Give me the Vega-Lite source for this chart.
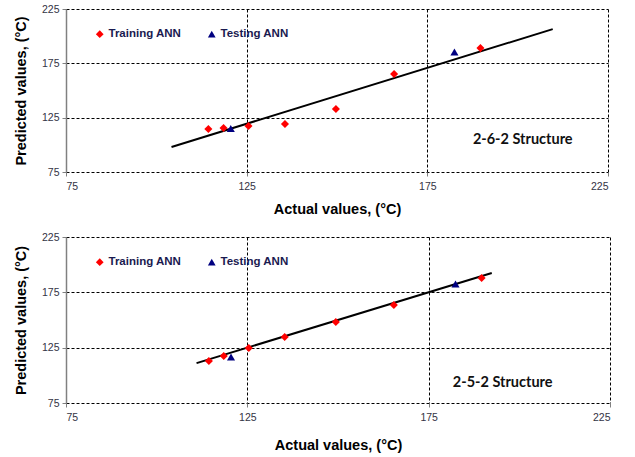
{
  "$schema": "https://vega.github.io/schema/vega-lite/v6.json",
  "padding": {"left": 13, "top": 4, "right": 5, "bottom": 5},
  "background": "white",
  "spacing": 16,
  "datasets": {
    "points": [
      {"panel": "A", "type": "Training ANN", "actual": 114.4, "predicted": 114.6},
      {"panel": "A", "type": "Training ANN", "actual": 118.6, "predicted": 115.5},
      {"panel": "A", "type": "Training ANN", "actual": 125.5, "predicted": 117.3},
      {"panel": "A", "type": "Training ANN", "actual": 135.6, "predicted": 119.2},
      {"panel": "A", "type": "Training ANN", "actual": 149.7, "predicted": 133.0},
      {"panel": "A", "type": "Training ANN", "actual": 165.8, "predicted": 165.2},
      {"panel": "A", "type": "Training ANN", "actual": 189.7, "predicted": 189.0},
      {"panel": "A", "type": "Testing ANN", "actual": 120.6, "predicted": 115.0},
      {"panel": "A", "type": "Testing ANN", "actual": 182.5, "predicted": 185.4},
      {"panel": "B", "type": "Training ANN", "actual": 114.4, "predicted": 112.9},
      {"panel": "B", "type": "Training ANN", "actual": 118.5, "predicted": 117.5},
      {"panel": "B", "type": "Training ANN", "actual": 125.4, "predicted": 124.7},
      {"panel": "B", "type": "Training ANN", "actual": 135.3, "predicted": 134.6},
      {"panel": "B", "type": "Training ANN", "actual": 149.4, "predicted": 148.2},
      {"panel": "B", "type": "Training ANN", "actual": 165.4, "predicted": 163.5},
      {"panel": "B", "type": "Training ANN", "actual": 189.6, "predicted": 187.9},
      {"panel": "B", "type": "Testing ANN", "actual": 120.5, "predicted": 116.5},
      {"panel": "B", "type": "Testing ANN", "actual": 182.4, "predicted": 182.5}
    ],
    "fits": [
      {"panel": "A", "actual": 104.2, "predicted": 98.0},
      {"panel": "A", "actual": 209.7, "predicted": 206.5},
      {"panel": "B", "actual": 111.0, "predicted": 111.0},
      {"panel": "B", "actual": 192.4, "predicted": 192.4}
    ],
    "notes": [
      {"panel": "A", "actual": 201.4, "predicted": 104.4, "label": "2-6-2 Structure"},
      {"panel": "B", "actual": 195.4, "predicted": 93.0, "label": "2-5-2 Structure"}
    ]
  },
  "config": {
    "view": {"stroke": null},
    "scale": {"zero": false},
    "axis": {
      "grid": true,
      "gridColor": "#000000",
      "gridDash": [3, 2],
      "gridWidth": 1,
      "labelFont": "Liberation Sans",
      "labelFontSize": 10.5,
      "labelColor": "#333344",
      "titleFont": "Liberation Sans",
      "titleFontSize": 14.5,
      "titleFontWeight": "bold",
      "titleColor": "#000000",
      "tickColor": "#808080",
      "tickSize": 4
    },
    "legend": {
      "orient": "none",
      "legendX": 28,
      "legendY": 19,
      "direction": "horizontal",
      "title": null,
      "labelFont": "Liberation Sans",
      "labelFontSize": 11.5,
      "labelFontWeight": "bold",
      "labelColor": "#1a1a50",
      "symbolSize": 60,
      "symbolStrokeWidth": 0,
      "columnPadding": 24,
      "labelOffset": 3
    }
  },
  "resolve": {
    "scale": {"color": "independent", "shape": "independent"},
    "legend": {"color": "independent", "shape": "independent"}
  },
  "vconcat": [
    {
      "width": 542,
      "height": 163,
      "encoding": {
        "x": {"field": "actual", "type": "quantitative",
          "scale": {"domain": [75, 225], "nice": false, "zero": false},
          "axis": {"values": [75, 125, 175, 225], "title": "Actual values, (°C)", "domain": false, "labelPadding": 5, "titlePadding": 11}},
        "y": {"field": "predicted", "type": "quantitative",
          "scale": {"domain": [75, 225], "nice": false, "zero": false},
          "axis": {"values": [75, 125, 175, 225], "title": "Predicted values, (°C)", "domain": true, "domainColor": "#808080", "domainWidth": 1.5, "labelPadding": 3, "titlePadding": 13}}
      },
      "layer": [
        {
          "data": {"name": "fits"},
          "transform": [{"filter": "datum.panel === 'A'"}],
          "mark": {"type": "line", "color": "#000000", "strokeWidth": 2},
          "encoding": {}
        },
        {
          "data": {"name": "points"},
          "transform": [{"filter": "datum.panel === 'A'"}],
          "mark": {"type": "point", "filled": true, "opacity": 1, "size": 65},
          "encoding": {
            "color": {"field": "type", "type": "nominal",
              "scale": {"domain": ["Training ANN", "Testing ANN"], "range": ["#ff0000", "#000080"]}},
            "shape": {"field": "type", "type": "nominal",
              "scale": {"domain": ["Training ANN", "Testing ANN"], "range": ["diamond", "triangle-up"]}}
          }
        },
        {
          "data": {"name": "notes"},
          "transform": [{"filter": "datum.panel === 'A'"}],
          "mark": {"type": "text", "font": "Lato", "fontWeight": "bold", "fontSize": 14.5, "color": "#111111"},
          "encoding": {
            "text": {"field": "label"}
          }
        }
      ]
    },
    {
      "width": 544,
      "height": 166,
      "encoding": {
        "x": {"field": "actual", "type": "quantitative",
          "scale": {"domain": [75, 225], "nice": false, "zero": false},
          "axis": {"values": [75, 125, 175, 225], "title": "Actual values, (°C)", "domain": false, "labelPadding": 5, "titlePadding": 16}},
        "y": {"field": "predicted", "type": "quantitative",
          "scale": {"domain": [75, 225], "nice": false, "zero": false},
          "axis": {"values": [75, 125, 175, 225], "title": "Predicted values, (°C)", "domain": true, "domainColor": "#808080", "domainWidth": 1.5, "labelPadding": 3, "titlePadding": 13}}
      },
      "layer": [
        {
          "data": {"name": "fits"},
          "transform": [{"filter": "datum.panel === 'B'"}],
          "mark": {"type": "line", "color": "#000000", "strokeWidth": 2},
          "encoding": {}
        },
        {
          "data": {"name": "points"},
          "transform": [{"filter": "datum.panel === 'B'"}],
          "mark": {"type": "point", "filled": true, "opacity": 1, "size": 65},
          "encoding": {
            "color": {"field": "type", "type": "nominal",
              "scale": {"domain": ["Training ANN", "Testing ANN"], "range": ["#ff0000", "#000080"]}},
            "shape": {"field": "type", "type": "nominal",
              "scale": {"domain": ["Training ANN", "Testing ANN"], "range": ["diamond", "triangle-up"]}}
          }
        },
        {
          "data": {"name": "notes"},
          "transform": [{"filter": "datum.panel === 'B'"}],
          "mark": {"type": "text", "font": "Lato", "fontWeight": "bold", "fontSize": 14.5, "color": "#111111"},
          "encoding": {
            "text": {"field": "label"}
          }
        }
      ]
    }
  ]
}
